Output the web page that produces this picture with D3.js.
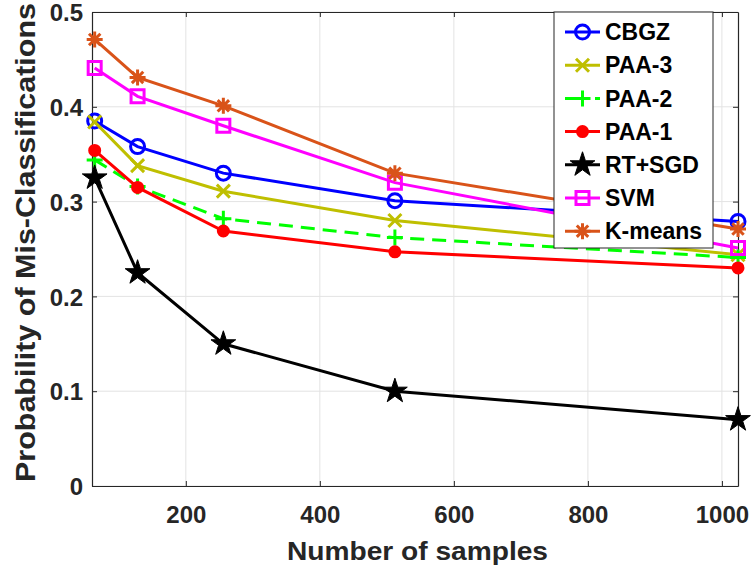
<!DOCTYPE html>
<html lang="en">
<head>
<meta charset="UTF-8">
<title>Probability of Mis-Classifications</title>
<style>
    body { margin: 0; background: #fff; }
    svg text { font-family: "Liberation Sans", Arial, sans-serif; font-weight: bold; }
    .tick text { font-size: 24px; fill: #262626; }
    .grid line { stroke: #e3e3e3; stroke-width: 1; }
    .axis-label { fill: #262626; }
    .legend-text { font-size: 23px; fill: #000; }
</style>
</head>
<body>
<svg width="752" height="572"></svg>
<script src="https://d3js.org/d3.v7.min.js"></script>
<script>

    // Data
    const samples = [64, 128, 256, 512, 1024];
    const seriesNames = ['CBGZ', 'PAA-3', 'PAA-2', 'PAA-1', 'RT+SGD', 'SVM', 'K-means'];
    const cbgz   = [0.385, 0.358, 0.330, 0.301, 0.279];
    const paa3   = [0.384, 0.338, 0.311, 0.280, 0.244];
    const paa2   = [0.344, 0.316, 0.282, 0.262, 0.241];
    const paa1   = [0.354, 0.315, 0.269, 0.247, 0.230];
    const rtsgd  = [0.325, 0.225, 0.150, 0.100, 0.070];
    const svm    = [0.441, 0.411, 0.380, 0.320, 0.251];
    const kmeans = [0.471, 0.431, 0.401, 0.330, 0.271];
    const xTickValues = [200, 400, 600, 800, 1000];
    const yTickValues = [0, 0.1, 0.2, 0.3, 0.4, 0.5];

    const seriesValues = [cbgz, paa3, paa2, paa1, rtsgd, svm, kmeans];

    const styles = [
        { color: '#0000ff', marker: 'circle' },
        { color: '#bfbf00', marker: 'x' },
        { color: '#00ff00', marker: 'plus', dash: '14,8' },
        { color: '#ff0000', marker: 'dot' },
        { color: '#000000', marker: 'star' },
        { color: '#ff00ff', marker: 'square' },
        { color: '#d95319', marker: 'asterisk' }
    ];

    const margin = { left: 92, right: 14, top: 12, bottom: 86 };

    const svg = d3.select('svg');
    const width = +svg.attr('width');
    const height = +svg.attr('height');
    const innerWidth = width - margin.left - margin.right;
    const innerHeight = height - margin.top - margin.bottom;

    const xScale = d3.scaleLinear().domain([60, 1024]).range([0, innerWidth]);
    const yScale = d3.scaleLinear().domain([0, 0.5]).range([innerHeight, 0]);

    const g = svg.append('g')
        .attr('transform', 'translate(' + margin.left + ' ' + margin.top + ')');

    // grid
    g.append('g').attr('class', 'grid')
        .selectAll('line').data(xTickValues).enter().append('line')
        .attr('x1', d => xScale(d)).attr('x2', d => xScale(d))
        .attr('y1', 0).attr('y2', innerHeight);
    g.append('g').attr('class', 'grid')
        .selectAll('line').data(yTickValues).enter().append('line')
        .attr('y1', d => yScale(d)).attr('y2', d => yScale(d))
        .attr('x1', 0).attr('x2', innerWidth);

    // axes (MATLAB style: inward ticks, box on)
    const xAxisG = g.append('g')
        .attr('transform', 'translate(0 ' + innerHeight + ')')
        .call(d3.axisBottom(xScale).tickValues(xTickValues).tickSize(-5).tickPadding(20)
            .tickSizeOuter(0).tickFormat(d3.format('d')));
    const yAxisG = g.append('g')
        .call(d3.axisLeft(yScale).tickValues(yTickValues).tickSize(-5).tickPadding(9).tickSizeOuter(0)
            .tickFormat(d => d === 0 ? '0' : d3.format('.1f')(d)));
    g.append('g')
        .call(d3.axisTop(xScale).tickValues(xTickValues).tickSize(-5).tickFormat('').tickSizeOuter(0));
    g.append('g')
        .attr('transform', 'translate(' + innerWidth + ' 0)')
        .call(d3.axisRight(yScale).tickValues(yTickValues).tickSize(-5).tickFormat('').tickSizeOuter(0));
    g.selectAll('.domain').attr('stroke', '#262626').attr('stroke-width', 1.2);
    g.selectAll('.tick line').attr('stroke', '#262626');

    xAxisG.selectAll('.tick text').attr('dy', '0.71em');
    yAxisG.selectAll('.tick text').attr('dy', '0.36em');

    // axis labels
    svg.append('text').attr('class', 'axis-label')
        .attr('x', 287).attr('y', 560)
        .style('font-size', '26px')
        .attr('textLength', 261).attr('lengthAdjust', 'spacingAndGlyphs')
        .text('Number of samples');
    svg.append('text').attr('class', 'axis-label')
        .attr('transform', 'rotate(-90)')
        .attr('x', -482).attr('y', 35)
        .style('font-size', '28px')
        .attr('textLength', 479).attr('lengthAdjust', 'spacingAndGlyphs')
        .text('Probability of Mis-Classifications');

    // marker shapes
    function markerPath(type) {
        const p = d3.path();
        if (type === 'x') {
            const s = 6.5;
            p.moveTo(-s, -s); p.lineTo(s, s); p.moveTo(-s, s); p.lineTo(s, -s);
        } else if (type === 'plus') {
            const s = 8;
            p.moveTo(-s, 0); p.lineTo(s, 0); p.moveTo(0, -s); p.lineTo(0, s);
        } else if (type === 'asterisk') {
            const s = 8, d = 5.7;
            p.moveTo(-s, 0); p.lineTo(s, 0); p.moveTo(0, -s); p.lineTo(0, s);
            p.moveTo(-d, -d); p.lineTo(d, d); p.moveTo(-d, d); p.lineTo(d, -d);
        } else if (type === 'square') {
            const s = 6.5;
            p.rect(-s, -s, 2 * s, 2 * s);
        } else if (type === 'circle') {
            p.arc(0, 0, 7, 0, 2 * Math.PI);
        } else if (type === 'dot') {
            p.arc(0, 0, 5, 0, 2 * Math.PI);
        } else if (type === 'star') {
            return d3.symbol(d3.symbolStar, 190)();
        }
        return p.toString();
    }

    function drawMarker(sel, st) {
        const filled = st.marker === 'dot' || st.marker === 'star';
        sel.append('path')
            .attr('d', markerPath(st.marker))
            .attr('fill', filled ? st.color : 'none')
            .attr('stroke', st.color)
            .attr('stroke-width', st.marker === 'star' ? 1 : 3);
    }

    const line = d3.line()
        .x(d => xScale(d[0]))
        .y(d => yScale(d[1]));

    seriesValues.forEach(function (vals, i) {
        const st = styles[i];
        const pts = samples.map((s, j) => [s, vals[j]]);
        g.append('path')
            .attr('d', line(pts))
            .attr('fill', 'none')
            .attr('stroke', st.color)
            .attr('stroke-width', 3)
            .attr('stroke-dasharray', st.dash || null);
        const mg = g.append('g');
        pts.forEach(function (pt) {
            const m = mg.append('g')
                .attr('transform', 'translate(' + xScale(pt[0]) + ' ' + yScale(pt[1]) + ')');
            drawMarker(m, st);
        });
    });

    // legend
    const legend = svg.append('g').attr('transform', 'translate(554 12)');
    legend.append('rect')
        .attr('width', 159).attr('height', 236)
        .attr('fill', '#fff').attr('stroke', '#262626').attr('stroke-width', 1);
    seriesNames.forEach(function (name, i) {
        const st = styles[i];
        const row = legend.append('g').attr('transform', 'translate(0 ' + (20 + i * 33.2) + ')');
        row.append('line')
            .attr('x1', 11).attr('x2', 46).attr('y1', 0).attr('y2', 0)
            .attr('stroke', st.color).attr('stroke-width', 3)
            .attr('stroke-dasharray', st.dash ? '10,5' : null);
        drawMarker(row.append('g').attr('transform', 'translate(28.5 0)'), st);
        row.append('text').attr('class', 'legend-text')
            .attr('x', 51).attr('y', 0).attr('dy', '0.36em')
            .text(name);
    });

</script>
</body>
</html>
